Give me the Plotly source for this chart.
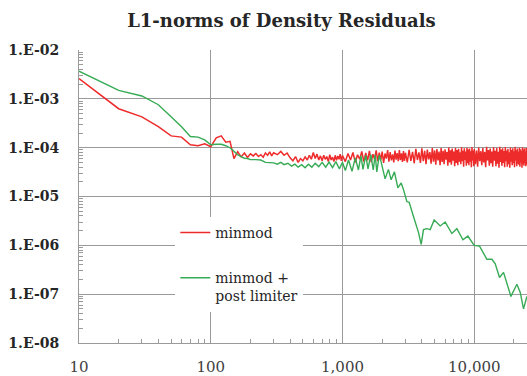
import plotly.graph_objects as go

# ---------------- data ----------------
# iteration numbers at which the residuals were sampled (minmod)
red_iter = (list(range(10, 101, 10)) + list(range(110, 301, 10)) + list(range(320, 1001, 20))
            + list(range(1050, 3001, 50)) + list(range(3100, 10001, 100)) + list(range(10200, 25001, 200)))
# L1 norm of density residual, in units of 1e-5 (minmod)
red_l1_e5 = [
    260, 63, 43, 27, 17.5, 16.5, 11.5, 11, 12, 10.5,
    16, 17.5, 13, 13.5, 6, 8.3, 6.5, 7.8, 6.3, 7.5, 6.8, 7.6, 6.6, 7.2, 6.4, 7.8, 7, 8.2, 6.8, 7.9,
    7.2, 8.4, 7, 7.8, 6.2, 5.4, 6.6, 5, 6, 5.4, 6.5, 5.6, 7, 5.8, 8, 6, 7.4, 5.6, 6.8, 5.4,
    7, 5.8, 6.6, 5.2, 7.2, 5.6, 6.4, 5.2, 7, 5.5, 6.8, 5.8, 7.4, 5.4, 6.9,
    5.2, 7.6, 5.6, 8, 5, 7.2, 5.8, 8.4, 5.2, 7.8, 5.5, 8.6, 5.1, 7.4, 5.8, 8.8, 5.3, 7.9, 5.6, 8.3,
    4.9, 7.6, 6, 8.9, 5.2, 8.1, 5.5, 7.3, 5, 8.7, 5.7, 7.8, 5.3, 9, 5.6, 7.7, 5.1, 8.5, 5.4, 7.9,
    5.0, 9.0, 5.4, 8.2, 4.8, 9.5, 5.6, 8.0, 4.9, 9.7,
    5.3, 8.6, 4.6, 9.2, 5.8, 8.1, 4.7, 9.9, 5.2, 8.8,
    4.5, 9.4, 5.5, 8.3, 4.4, 9.8, 5.1, 8.6, 4.6, 9.3,
    5.7, 8.2, 4.3, 10.1, 5.0, 8.9, 4.5, 9.6, 5.4, 8.4,
    4.2, 9.9, 4.9, 9.0, 4.4, 9.5, 5.2, 8.1, 4.6, 10.2,
    5.3, 8.7, 4.1, 9.7, 5.6, 8.4, 4.3, 10.0, 4.8, 9.2,
    4.4, 9.6, 5.2, 8.5, 4.0, 10.3, 5.5, 8.8, 4.2, 9.4,
    4.6, 8.8, 4.1, 10.1, 5.3, 8.5, 4.4, 9.8, 5.0, 8.2,
    4.0, 10.4, 5.5, 9.0, 4.3, 9.6, 4.8, 8.4, 4.1, 10.2,
    5.4, 8.7, 4.2, 9.9, 4.7, 8.3, 3.9, 10.5, 5.1, 9.2,
    4.3, 9.7, 4.9, 8.6, 4.0, 10.3, 5.3, 8.8, 4.1, 9.5,
    4.6, 8.1, 3.9, 10.1, 5.2, 9.0, 4.4, 9.8, 4.8, 8.5,
    4.0, 10.4, 5.5, 8.9, 4.2, 9.6, 4.7, 8.3, 4.5, 10.0,
    4.1, 9.3, 5.0, 8.6, 3.9, 10.2, 4.6, 9.1, 4.3, 9.7,
    4.8, 8.4, 4.2, 9.9, 4.5,
]

# minmod + post limiter
green_iter = [
    10, 20, 30, 40, 50, 60, 70, 80, 90, 100,
    110, 120, 130, 140, 150, 160, 170, 180, 190, 200, 220, 240, 260, 280,
    300, 320, 340, 360, 385, 410, 435, 460, 490, 520, 550, 585, 620, 660, 700, 745, 790, 840, 890, 945,
    1000, 1050, 1110, 1180, 1250, 1320, 1380, 1430, 1500, 1560, 1640, 1710, 1770, 1820, 1900, 1960,
    2105, 2230, 2338, 2477, 2630, 2786, 2899, 3075, 3205, 3455, 3770, 3953, 4115, 4366, 4626, 4961,
    5510, 6013, 6760, 7376, 8194, 8939, 9977, 10940, 11610, 12460, 13600, 14420, 15540, 16670,
    18970, 21050, 22300, 23640, 25070,
]
green_l1_e5 = [
    370, 150, 115, 76, 43, 27, 17, 16.5, 14.5, 11.5,
    11.8, 11.8, 11, 10, 8.5, 7.2, 6.6, 6.1, 6, 5.7, 5.7, 5.6, 5, 5,
    4.9, 4.6, 5.0, 4.5, 4.8, 4.2, 4.6, 4.0, 4.5, 3.9, 4.6, 4.0, 4.8, 4.1, 5.0, 4.0, 5.1, 3.9, 5.2, 3.7,
    5.0, 3.4, 5.6, 3.3, 6.2, 3.5, 6.8, 3.6, 7.0, 3.7, 7.2, 3.5, 7.2, 3.2, 7.0, 5.2,
    2.3, 3.6, 2.2, 3.2, 1.5, 1.9, 1.4, 0.79, 0.76, 0.39, 0.185, 0.105, 0.21, 0.22, 0.21, 0.33,
    0.25, 0.30, 0.175, 0.22, 0.13, 0.155, 0.10, 0.097, 0.072, 0.052, 0.052, 0.042, 0.022, 0.028,
    0.009, 0.016, 0.011, 0.005, 0.009,
]

red_l1 = [v * 1e-5 for v in red_l1_e5]
green_l1 = [v * 1e-5 for v in green_l1_e5]

y_tickvals = [1e-8, 1e-7, 1e-6, 1e-5, 1e-4, 1e-3, 1e-2]
y_ticktext = ["1.E-08", "1.E-07", "1.E-06", "1.E-05", "1.E-04", "1.E-03", "1.E-02"]
x_tickvals = [10, 100, 1000, 10000]
x_ticktext = ["10", "100", "1,000", "10,000"]
minor_digits = [2, 3, 4, 5, 6, 7, 8, 9]
x_minor = [m * d for d in [10, 100, 1000, 10000] for m in minor_digits]
y_minor = [m * d for d in y_tickvals[:-1] for m in minor_digits]

# ---------------- figure ----------------
RED = "#ee2b2b"
GREEN = "#37ab55"
GRID = "#9a9a9a"
FONT = "DejaVu Serif"

fig = go.Figure()
fig.add_trace(go.Scatter(x=red_iter, y=red_l1, mode="lines", name="minmod",
                         line=dict(color=RED, width=1.5), legendgroup="a"))
fig.add_trace(go.Scatter(x=green_iter, y=green_l1, mode="lines", name="minmod +<br>post limiter",
                         line=dict(color=GREEN, width=1.4), legendgroup="b"))

fig.update_layout(
    width=527, height=376,
    margin=dict(l=79, r=0, t=50, b=33),
    paper_bgcolor="white", plot_bgcolor="white",
    title=dict(text="<b>L1-norms of Density Residuals</b>", x=0.534, xanchor="center",
               xref="container", y=0.944, yanchor="middle", yref="container",
               font=dict(family=FONT, size=18, color="#262626")),
    showlegend=True,
    legend=dict(x=0.215, y=0.43, xanchor="left", yanchor="top", bgcolor="white",
                font=dict(family=FONT, size=14, color="#262626"),
                traceorder="grouped", tracegroupgap=24, valign="top"),
)
fig.update_xaxes(
    type="log", range=[1, 4.40],
    tickmode="array", tickvals=x_tickvals, ticktext=x_ticktext,
    tickfont=dict(family=FONT, size=15, color="#404040"),
    showgrid=True, gridcolor=GRID, gridwidth=1,
    showline=True, linecolor=GRID, linewidth=1,
    ticks="", ticklabelstandoff=10,
    minor=dict(tickmode="array", tickvals=x_minor, ticks="inside", ticklen=4,
               tickcolor=GRID, tickwidth=1, showgrid=False),
    zeroline=False,
)
fig.update_yaxes(
    type="log", range=[-8, -1.998],
    tickmode="array", tickvals=y_tickvals, ticktext=y_ticktext,
    tickfont=dict(family=FONT, size=14, color="#262626", weight="bold"),
    showgrid=True, gridcolor=GRID, gridwidth=1,
    showline=True, linecolor=GRID, linewidth=1,
    ticks="", ticklabelstandoff=16,
    minor=dict(tickmode="array", tickvals=y_minor, ticks="inside", ticklen=4,
               tickcolor=GRID, tickwidth=1, showgrid=False),
    zeroline=False,
)

fig.write_html("out.html")
